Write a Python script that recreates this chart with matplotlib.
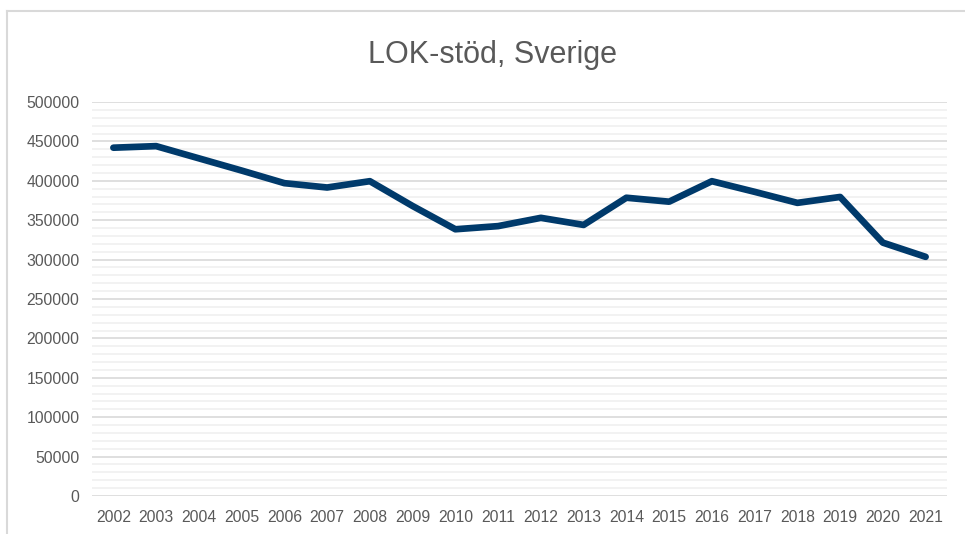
import matplotlib.pyplot as plt
from matplotlib.lines import Line2D
from matplotlib.ticker import MultipleLocator

# Data
years = [str(y) for y in range(2002, 2022)]
lok_stod = [442000, 444000, 428500, 413000, 397000, 391500, 399500, 368000,
            338500, 342500, 353000, 344000, 378500, 373500, 399500, 386000,
            372000, 379500, 321500, 303500]

plt.rcParams['font.family'] = ['Liberation Sans', 'DejaVu Sans']
text_color = '#595959'

fig = plt.figure(figsize=(9.65, 5.34), dpi=100)
ax = fig.add_axes([92 / 965, 1 - 496 / 534, (947 - 92) / 965, (496 - 102) / 534])

x = range(len(years))
ax.plot(x, lok_stod, color='#003A6B', lw=4.8, solid_capstyle='round',
        solid_joinstyle='round', zorder=3)

ax.set_xlim(-0.5, len(years) - 0.5)
ax.set_ylim(0, 500000)
ax.set_xticks(list(x))
ax.set_xticklabels(years)
ax.yaxis.set_major_locator(MultipleLocator(50000))
ax.yaxis.set_minor_locator(MultipleLocator(10000))
ax.ticklabel_format(axis='y', style='plain', useOffset=False)

ax.grid(which='major', axis='y', color='#D9D9D9', lw=1.2)
ax.grid(which='minor', axis='y', color='#F0F0F0', lw=1.2)
ax.set_axisbelow(True)

for side in ['top', 'right', 'left', 'bottom']:
    ax.spines[side].set_visible(False)
ax.tick_params(axis='both', which='both', length=0, labelsize=11.3,
               labelcolor=text_color)
ax.tick_params(axis='y', pad=9)
ax.tick_params(axis='x', pad=10)

# title is centred on the chart area, not on the plot
fig.text(492 / 965, 1 - 63 / 534, 'LOK-stöd, Sverige', fontsize=22,
         color=text_color, ha='center', va='baseline')

# chart frame (only top and left edges are visible in the crop)
fig.add_artist(Line2D([7 / 965, 7 / 965], [0, 1 - 11 / 534],
                      transform=fig.transFigure, color='#D9D9D9', lw=1.5))
fig.add_artist(Line2D([7 / 965, 1], [1 - 11 / 534, 1 - 11 / 534],
                      transform=fig.transFigure, color='#D9D9D9', lw=1.5))

fig.savefig('out.png', dpi=100, facecolor='white')
